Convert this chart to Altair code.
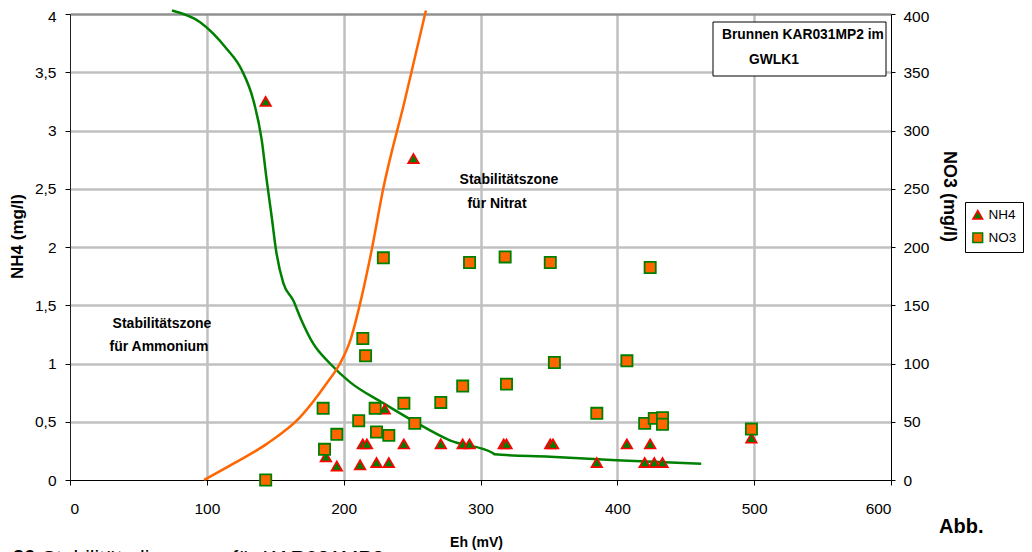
import altair as alt
import pandas as pd

# ---------------- data ----------------
eh_nh4 = [143, 187, 195, 212, 214, 217, 224, 230, 233, 244, 251, 271, 287, 292,
          317, 319, 351, 353, 385, 407, 420, 424, 427, 433, 498]
nh4 = [3.25, 0.20, 0.12, 0.13, 0.31, 0.31, 0.15, 0.61, 0.15, 0.31, 2.76, 0.31, 0.31, 0.31,
       0.31, 0.31, 0.31, 0.31, 0.15, 0.31, 0.15, 0.31, 0.15, 0.15, 0.36]

eh_no3 = [143, 185, 186, 195, 211, 214, 216, 223, 224, 229, 233, 244, 252, 271, 287, 292,
          318, 319, 351, 354, 385, 407, 420, 424, 427, 433, 433, 498]
no3 = [0, 61.5, 26.3, 39.2, 50.9, 121.5, 106.6, 61.5, 41.2, 190.7, 38.3, 65.8, 48.6, 66.6,
       80.6, 186.7, 191.5, 82.3, 186.7, 100.9, 57.2, 102.3, 48.6, 182.4, 52.9, 53.4, 47.8, 43.7]

green_eh = [74.5, 95.1, 114.6, 125.5, 134.0, 140.1, 143.8, 147.4, 150.6, 155.9, 163.2, 168.1,
            177.8, 190.0, 204.6, 228.9, 253.3, 277.6, 309.2, 310.5, 350.9, 399.3, 461.3]
green_v = [4.03, 3.93, 3.70, 3.52, 3.26, 2.92, 2.57, 2.26, 1.97, 1.69, 1.54, 1.40,
           1.17, 1.00, 0.84, 0.66, 0.49, 0.34, 0.23, 0.22, 0.20, 0.17, 0.14]

orange_eh = [98, 119.4, 143.8, 168.2, 187.6, 197.3, 204.6, 213.1, 220.4, 228.9, 244.7, 260.1]
orange_v = [0, 0.14, 0.31, 0.54, 0.83, 1.00, 1.19, 1.57, 1.97, 2.50, 3.26, 4.03]

x_ticks = [0, 100, 200, 300, 400, 500, 600]
left_ticks = [0, 0.5, 1, 1.5, 2, 2.5, 3, 3.5, 4]
right_ticks = [0, 50, 100, 150, 200, 250, 300, 350, 400]
series_names = ["NH4", "NO3"]

# ---------------- styling ----------------
W, H = 821, 466
SANS = "Liberation Sans, Arial, sans-serif"
GRID = "#c0c0c0"
TICK_FS = 15.5

df_nh4 = pd.DataFrame({"eh": eh_nh4, "val": nh4, "series": "NH4"})
df_no3 = pd.DataFrame({"eh": eh_no3, "val": no3, "series": "NO3"})
df_green = pd.DataFrame({"eh": green_eh, "val": green_v, "i": list(range(len(green_eh)))})
df_orange = pd.DataFrame({"eh": orange_eh, "val": orange_v, "i": list(range(len(orange_eh)))})
one = pd.DataFrame({"a": [0]})

xscale = alt.Scale(domain=[0, 600], nice=False, zero=False)
yl_scale = alt.Scale(domain=[0, 4], nice=False)
yr_scale = alt.Scale(domain=[0, 400], nice=False)

x_axis = alt.Axis(
    values=x_ticks, grid=True,
    gridColor={"condition": {"test": "datum.value == 0 || datum.value == 600", "value": "transparent"},
               "value": GRID},
    gridWidth=2.5, domainColor="black", domainWidth=1.2, tickColor="black", tickSize=5,
    labelFont=SANS, labelFontSize=TICK_FS, labelColor="black", labelPadding=16,
    title="Eh (mV)", titleFont=SANS, titleFontSize=14, titleFontWeight="bold",
    titleColor="black", titleX=406, titleY=62, titleAlign="center", titleBaseline="middle",
)

left_axis = alt.Axis(
    values=left_ticks, format=".1~f", labelExpr="replace(datum.label, '.', ',')",
    labelOffset={"condition": {"test": "datum.value == 4", "value": 2}, "value": 0},
    grid=True,
    gridColor={"condition": [{"test": "datum.value == 0", "value": "transparent"},
                             {"test": "datum.value == 4", "value": "#909090"}],
               "value": GRID},
    gridWidth=2.5, domainColor="#222222", domainWidth=1, tickColor="black", tickSize=5,
    labelFont=SANS, labelFontSize=TICK_FS, labelColor="black", labelPadding=9,
    title="NH4 (mg/l)", titleFont=SANS, titleFontSize=17, titleFontWeight="bold",
    titleColor="black", titleAngle=-90, titleX=-53, titleY=222,
    titleAlign="center", titleBaseline="middle",
)

right_axis = alt.Axis(
    orient="right", values=right_ticks, grid=False,
    labelOffset={"condition": {"test": "datum.value == 400", "value": 2}, "value": 0},
    domainColor="black", domainWidth=1, tickColor="black", tickSize=4,
    labelFont=SANS, labelFontSize=TICK_FS, labelColor="black", labelPadding=8,
    title="NO3 (mg/l)", titleFont=SANS, titleFontSize=18, titleFontWeight="bold",
    titleColor="black", titleAngle=90, titleX=57, titleY=182,
    titleAlign="center", titleBaseline="middle",
)

fill_enc = alt.Fill("series:N", title=None,
                    scale=alt.Scale(domain=series_names, range=["#008000", "#ff6600"]))
stroke_enc = alt.Stroke("series:N", title=None,
                        scale=alt.Scale(domain=series_names, range=["#ff0000", "#008000"]))
shape_enc = alt.Shape("series:N", title=None,
                      scale=alt.Scale(domain=series_names, range=["triangle-up", "square"]))

X = alt.X("eh:Q", scale=xscale, axis=x_axis)
YL = alt.Y("val:Q", scale=yl_scale, axis=left_axis)

green = alt.Chart(df_green).mark_line(color="#008000", strokeWidth=2.5, interpolate="monotone").encode(
    x=X, y=YL, order="i:Q")
orange = alt.Chart(df_orange).mark_line(color="#ff6600", strokeWidth=2.5, interpolate="monotone").encode(
    x=X, y=YL, order="i:Q")

triangles = alt.Chart(df_nh4).mark_point(filled=True, opacity=1, size=115, strokeWidth=1.6).encode(
    x=X, y=YL, fill=fill_enc, stroke=stroke_enc, shape=shape_enc)


def txt(s, x, y, font=SANS, size=14, weight="bold", align="center", baseline="middle"):
    return alt.Chart(one).mark_text(
        text=s, font=font, fontSize=size, fontWeight=weight, align=align,
        baseline=baseline, color="black").encode(x=alt.value(x), y=alt.value(y))


box = alt.Chart(one).mark_rect(fill="white", stroke="black", strokeWidth=1).encode(
    x=alt.value(643), x2=alt.value(816), y=alt.value(8), y2=alt.value(62))

annotations = [
    txt("Stabilitätszone", 92, 310),
    txt("für Ammonium", 89, 333),
    txt("Stabilitätszone", 439, 166),
    txt("für Nitrat", 427, 190),
    box,
    txt("Brunnen KAR031MP2 im", 652, 21, size=13.8, align="left"),
    txt("GWLK1", 679, 46, size=13.8, align="left"),
    txt("Abb.", 869, 519, size=20, baseline="alphabetic", align="left"),
    txt("36", -57, 534, size=20, baseline="top", align="left"),
    txt("Stabilitätsdiagramm für KAR031MP2", -28, 534, size=21,
        weight="normal", baseline="top", align="left"),
]

left_group = alt.layer(green, orange, triangles, *annotations)

squares = alt.Chart(df_no3).mark_point(filled=True, opacity=1, size=125, strokeWidth=1.8).encode(
    x=X, y=alt.Y("val:Q", scale=yr_scale, axis=right_axis),
    fill=fill_enc, stroke=stroke_enc, shape=shape_enc)

chart = alt.layer(left_group, squares).resolve_scale(y="independent").properties(
    width=W, height=H,
    autosize=alt.AutoSizeParams(type="none"),
    padding={"left": 62, "top": 6, "right": 133, "bottom": 90},
    background="white",
).configure_view(stroke="transparent").configure_legend(
    orient="none", legendX=895, legendY=188,
    strokeColor="black", fillColor="white", padding=6,
    labelFont=SANS, labelFontSize=13.5, labelColor="black", labelOffset=4,
    symbolSize=95, symbolStrokeWidth=1.5, rowPadding=7, cornerRadius=0,
)

chart.save("out.html", embed_options={"renderer": "svg", "actions": False})
